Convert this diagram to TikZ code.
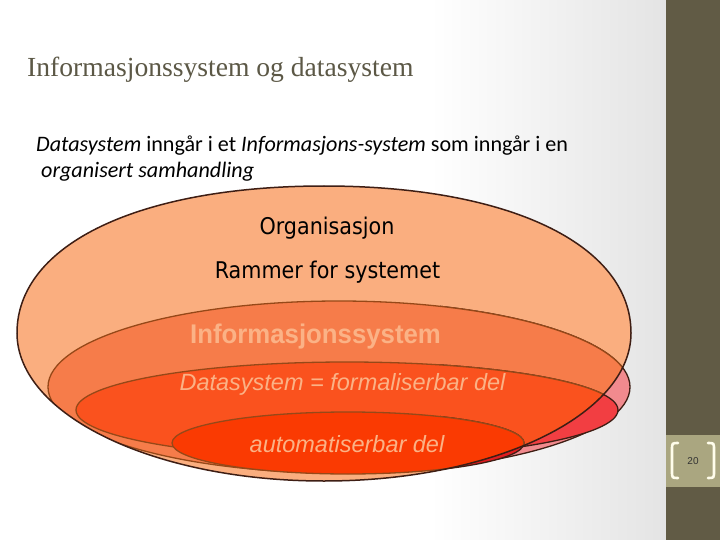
\documentclass[tikz,border=0pt]{standalone}
\usepackage{fontspec}
\newfontfamily\titlefont{Liberation Serif}
\newfontfamily\bodyfont{Carlito}
\newfontfamily\tahomafont{DejaVu Sans}
\newfontfamily\arialfont{Liberation Sans}
\definecolor{orgfill}{RGB}{250,174,127}
\definecolor{infofill}{RGB}{246,124,74}
\definecolor{datafill}{RGB}{250,82,30}
\definecolor{autofill}{RGB}{250,58,2}
\definecolor{infoout}{RGB}{241,138,142}
\definecolor{dataout}{RGB}{242,62,66}
\definecolor{autoout}{RGB}{225,28,32}
\definecolor{rimdark}{RGB}{62,30,20}
\definecolor{rimbrown}{RGB}{150,72,24}
\definecolor{labeltext}{RGB}{251,178,134}
\definecolor{titlegrey}{RGB}{92,88,70}
\definecolor{band}{RGB}{97,91,69}
\definecolor{tab}{RGB}{170,166,128}
\definecolor{paper}{RGB}{228,228,228}
\definecolor{cream}{RGB}{255,253,235}
\newcommand{\orgshape}{(17,333) .. controls (17,244) and (140,186) .. (324,186) .. controls (508,186) and (631,244) .. (631,333) .. controls (631,415) and (494,481) .. (324,481) .. controls (154,481) and (17,415) .. cycle}
\newcommand{\layer}[6]{\begin{scope} \clip (440,300) rectangle (660,500); \draw[edge, fill=#6] (#1,#2) ellipse [x radius=#3pt, y radius=#4pt]; \end{scope}
\begin{scope} \clip \orgshape; \draw[rim, fill=#5] (#1,#2) ellipse [x radius=#3pt, y radius=#4pt]; \end{scope}}

\begin{document}
\begin{tikzpicture}[x = 1pt, y = -1pt,
  rim/.style = {rimbrown, line width = 1.3pt},
  edge/.style = {rimdark, line width = 1.3pt},
  orgtext/.style = {anchor = base, inner sep = 0, xscale = 0.9, font = \tahomafont\fontsize{23}{26}\selectfont},
  infotext/.style = {anchor = base, inner sep = 0, xscale = 0.955, text = labeltext, font = \arialfont\bfseries\fontsize{27}{30}\selectfont},
  datatext/.style = {anchor = base, inner sep = 0, text = labeltext, font = \arialfont\itshape\fontsize{23.5}{26}\selectfont},
  lead/.style = {anchor = base west, inner sep = 0, font = \bodyfont\fontsize{22.1}{24}\selectfont},
  bracket/.style = {cream, line width = 2.6pt, line cap = round}]
\useasboundingbox (0,0) rectangle (720,540);
\fill[white] (0,0) rectangle (666,540);
\shade[left color = white, right color = paper] (430,0) rectangle (666,540);
\fill[band] (666,0) rectangle (720,540);
\fill[tab] (666,435) rectangle (720,487);
\draw[bracket] (678,443) .. controls (672,443) .. (672,450) -- (672,471) .. controls (672,478) .. (678,478);
\draw[bracket] (708,443) .. controls (714,443) .. (714,450) -- (714,471) .. controls (714,478) .. (708,478);
\node[inner sep = 0, text = black!80, font = \arialfont\fontsize{10}{12}\selectfont] (page) at (693,461) {20};
\node[anchor = base west, inner sep = 0, text = titlegrey, font = \titlefont\fontsize{27.6}{30}\selectfont] (title) at (27,77) {Informasjonssystem og datasystem};
\node[lead] (lead1) at (36,152) {\textit{Datasystem} inngår i et \textit{Informasjons-system} som inngår i en};
\node[lead] (lead2) at (41,178) {\textit{organisert samhandling}};
% organisation and the three layers inside it
\fill[orgfill] \orgshape;
\layer{339}{387}{291}{86}{infofill}{infoout}
\layer{347}{410}{271}{48}{datafill}{dataout}
\layer{348}{443}{176}{31}{autofill}{autoout}
\draw[rimdark, line width = 1.5pt] \orgshape;
\node[orgtext] (org) at (327,235) {Organisasjon};
\node[orgtext] (frame) at (327.5,278) {Rammer for systemet};
\node[infotext] (info) at (315.5,343) {Informasjonssystem};
\node[datatext] (data) at (342.5,390) {Datasystem = formaliserbar del};
\node[datatext] (auto) at (347,452) {automatiserbar del};
\end{tikzpicture}
\end{document}
